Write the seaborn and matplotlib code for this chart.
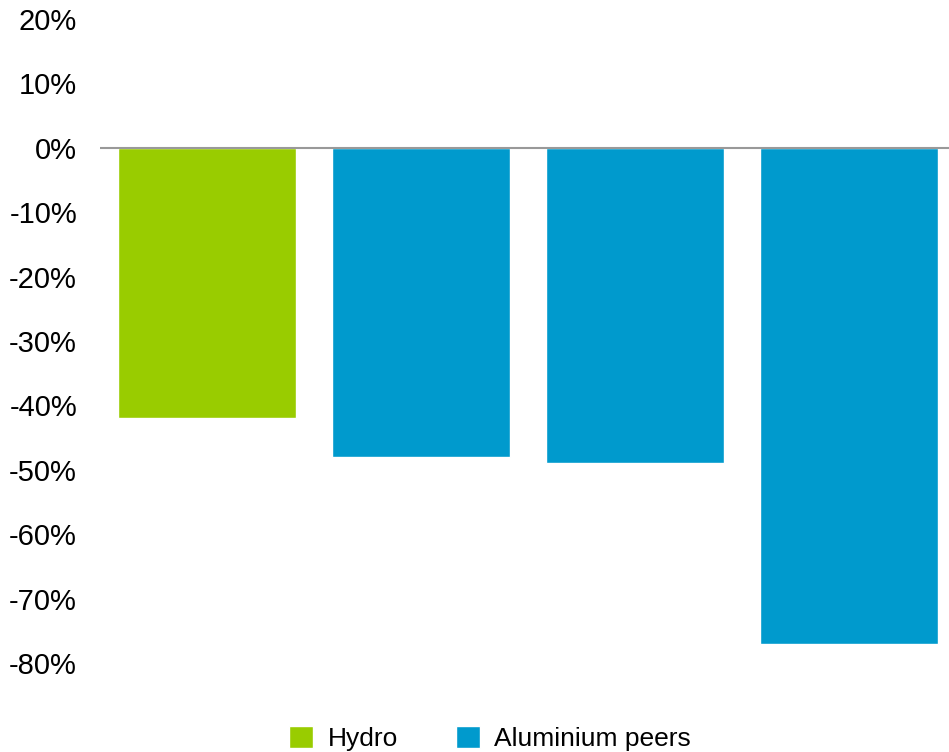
import matplotlib
matplotlib.use("Agg")
import matplotlib.pyplot as plt
import seaborn as sns
import pandas as pd
from matplotlib.ticker import FuncFormatter

categories = ["Hydro", "Peer A", "Peer B", "Peer C"]
values = [-42, -48, -49, -77]
groups = ["Hydro", "Aluminium peers", "Aluminium peers", "Aluminium peers"]
yticks = [20, 10, 0, -10, -20, -30, -40, -50, -60, -70, -80]
palette = {"Hydro": "#99CC00", "Aluminium peers": "#009ACD"}

sns.set_theme(style="white")
plt.rcParams['font.family'] = ['Liberation Sans', 'DejaVu Sans']
plt.rcParams['text.color'] = '#000000'

df = pd.DataFrame({"cat": categories, "val": values, "grp": groups})

fig = plt.figure(figsize=(9.49, 7.52), dpi=100)
ax = fig.add_axes([100/949, 1 - 663/752, 849/949, 644/752])
sns.barplot(data=df, x="cat", y="val", hue="grp", dodge=False, palette=palette,
            width=0.83, ax=ax, legend=True, saturation=1)
ax.set_xlim(-0.5, -0.5 + 849/214)
ax.set_ylim(-80, 20)
ax.set_yticks(yticks)
ax.yaxis.set_major_formatter(FuncFormatter(lambda v, p: f"{int(v)}%"))
ax.tick_params(axis='y', length=0, pad=16.5, labelsize=21, labelcolor="#000000")
ax.set_xticks([])
ax.set_xlabel("")
ax.set_ylabel("")
for s in ax.spines.values():
    s.set_visible(False)
ax.axhline(0, color="#999999", lw=1.5, zorder=3)

handles, labels = ax.get_legend_handles_labels()
ax.get_legend().remove()
leg = fig.legend(handles, labels, loc="lower center", bbox_to_anchor=(490/949, -0.03),
                 ncol=2, frameon=False, fontsize=19, handlelength=0.91, handleheight=0.91,
                 handletextpad=0.55, columnspacing=2.2)
for t in leg.get_texts():
    t.set_color("#000000")

fig.savefig("out.png", dpi=100)
